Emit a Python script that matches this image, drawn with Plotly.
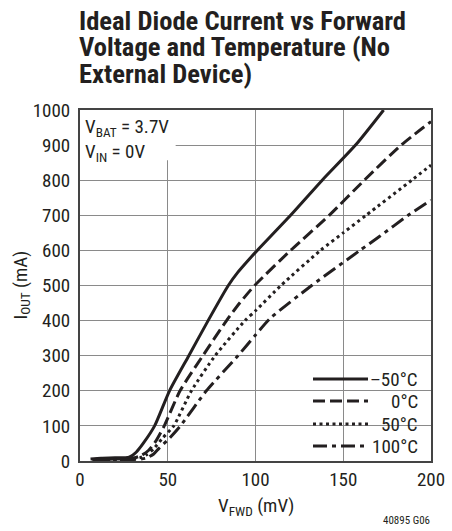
import plotly.graph_objects as go

# ---- data ----
labels = ["\u201350\u00b0C", "0\u00b0C", "50\u00b0C", "100\u00b0C"]

vfwd_m50 = [6, 12, 20, 28, 32, 36, 42.5, 51, 62, 73, 84.5, 90, 95, 101, 120, 138, 157, 173]
iout_m50 = [6, 8, 9, 11, 25, 50, 100, 200, 300, 400, 500, 538, 567, 600, 700, 800, 900, 1000]

vfwd_0 = [7, 15, 25, 31, 35, 39, 43, 48, 57, 70, 83.5, 91, 99.5, 120, 142, 162, 183, 200]
iout_0 = [4, 5, 6, 9, 16, 30, 55, 100, 200, 300, 400, 450, 500, 600, 700, 800, 900, 967]

vfwd_50 = [8, 18, 28, 34, 38, 42, 47, 53.4, 63.5, 77, 94, 100, 114.5, 137, 150, 163, 189, 200]
iout_50 = [3, 4, 5, 9, 18, 35, 65, 100, 200, 300, 400, 428, 500, 600, 650, 700, 800, 843]

vfwd_100 = [8, 20, 30, 37.5, 42, 45, 51, 57.2, 72, 90, 100, 108.3, 132, 159.5, 171, 187, 200]
iout_100 = [2, 3, 4, 8, 20, 36, 65, 100, 200, 300, 359, 406, 500, 600, 641, 700, 743]

x_ticks = [0, 50, 100, 150, 200]
y_ticks = [0, 100, 200, 300, 400, 500, 600, 700, 800, 900, 1000]

title_lines = ["Ideal Diode Current vs Forward", "Voltage and Temperature (No", "External Device)"]

dashes = ["solid", "12px,5px", "3px,3.5px", "14px,5px,4px,5px"]
series = [
    (vfwd_m50, iout_m50),
    (vfwd_0, iout_0),
    (vfwd_50, iout_50),
    (vfwd_100, iout_100),
]

FONT = "Roboto Condensed, Liberation Sans Narrow, DejaVu Sans Condensed, sans-serif"
INK = "#231f20"
W, H = 452, 531
L, R, T, B = 80, 21, 110, 70
PW, PH = W - L - R, H - T - B


def px_x(px):
    return (px - L) / PW


def px_y(py):
    return (H - B - py) / PH


fig = go.Figure()
for (xs, ys), name, dash in zip(series, labels, dashes):
    fig.add_trace(go.Scatter(
        x=xs, y=ys, name=name, mode="lines", showlegend=False,
        line=dict(color=INK, width=3, dash=dash, shape="spline", smoothing=0.6),
    ))

fig.update_layout(
    width=W, height=H,
    margin=dict(l=L, r=R, t=T, b=B, autoexpand=False),
    paper_bgcolor="white", plot_bgcolor="white",
    font=dict(family=FONT, size=19, color=INK),
    showlegend=False,
)

fig.update_xaxes(
    range=[0, 200], tickvals=x_ticks, ticktext=[str(v) for v in x_ticks],
    showgrid=True, gridcolor="#8a8a8a", gridwidth=1, zeroline=False,
    showline=True, mirror=True, linecolor="#444", linewidth=2, ticks="",
    tickfont=dict(size=19), ticklabelstandoff=0, automargin=False,
)
fig.update_yaxes(
    range=[0, 1000], tickvals=y_ticks, ticktext=[str(v) for v in y_ticks],
    showgrid=True, gridcolor="#8a8a8a", gridwidth=1, zeroline=False,
    showline=True, mirror=True, linecolor="#444", linewidth=2, ticks="",
    tickfont=dict(size=19), ticklabelstandoff=4, automargin=False,
)

# title, three lines
for i, line in enumerate(title_lines):
    fig.add_annotation(
        xref="paper", yref="paper", x=px_x(77), y=px_y(20 + 27 * i),
        xanchor="left", yanchor="middle", text="<b>" + line + "</b>",
        showarrow=False, font=dict(family=FONT, size=26.6, color=INK),
    )

# axis titles
fig.add_annotation(
    xref="paper", yref="paper", x=0.5, y=px_y(506), xanchor="center", yanchor="middle",
    text="V<sub>FWD</sub> (mV)", showarrow=False, font=dict(size=19, color=INK),
)
fig.add_annotation(
    xref="paper", yref="paper", x=px_x(21), y=0.5, xanchor="center", yanchor="middle",
    text="I<sub>OUT</sub> (mA)", textangle=-90, showarrow=False, font=dict(size=19, color=INK),
)

# white box behind the condition text (hides the gridlines)
fig.add_shape(type="rect", xref="x", yref="y", x0=0, x1=54.5, y0=857, y1=1000,
              fillcolor="white", line_width=0, layer="between")
fig.add_annotation(
    xref="paper", yref="paper", x=px_x(83), y=px_y(113), xanchor="left", yanchor="top",
    text="V<sub>BAT</sub> = 3.7V<br>V<sub>IN</sub> = 0V",
    showarrow=False, align="left", font=dict(size=19, color=INK),
)

# legend (key lines + right-aligned labels on a white panel)
fig.add_shape(type="rect", xref="paper", yref="paper",
              x0=px_x(303), x1=px_x(425), y0=px_y(456), y1=px_y(367),
              fillcolor="white", line_width=0, layer="between")
legend_rows = [379, 401, 424, 446]
for row, name, dash in zip(legend_rows, labels, dashes):
    fig.add_shape(type="line", xref="paper", yref="paper",
                  x0=px_x(313), x1=px_x(368), y0=px_y(row), y1=px_y(row),
                  line=dict(color=INK, width=3, dash=dash), layer="above")
    fig.add_annotation(
        xref="paper", yref="paper", x=px_x(420), y=px_y(row), xanchor="right", yanchor="middle",
        text=name, showarrow=False, font=dict(size=19, color=INK),
    )

fig.add_annotation(
    xref="paper", yref="paper", x=px_x(432), y=px_y(520), xanchor="right", yanchor="middle",
    text="40895 G06", showarrow=False, font=dict(size=11, color=INK),
)

fig.write_html("out.html", post_script="document.body.style.margin='0';",
               config={"displayModeBar": False})
